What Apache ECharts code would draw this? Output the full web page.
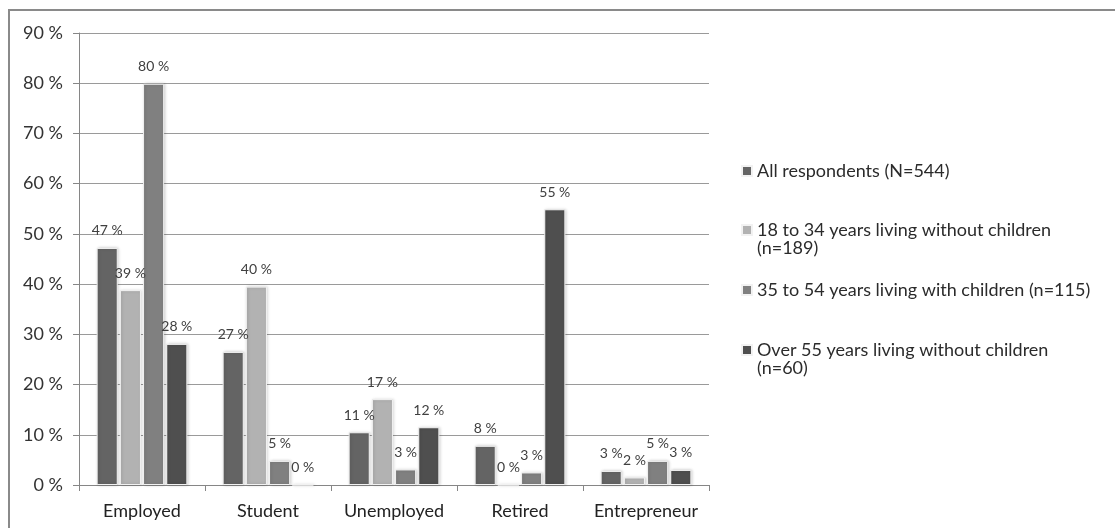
<!DOCTYPE html>
<html>
<head>
<meta charset="utf-8">
<script src="https://cdn.jsdelivr.net/npm/echarts@6/dist/echarts.min.js"></script>
<style>
  html, body { margin: 0; padding: 0; background: #fff; }
  #chart { width: 1115px; height: 528px; }
</style>
</head>
<body>
<div id="chart"></div>
<script>
// Employment status by respondent group (share of respondents, %)
const categories = ['Employed', 'Student', 'Unemployed', 'Retired', 'Entrepreneur'];

const seriesNames = [
  'All respondents (N=544)',
  '18 to 34 years living without children\n(n=189)',
  '35 to 54 years living with children (n=115)',
  'Over 55 years living without children\n(n=60)'
];

const allRespondents = [47.2, 26.5, 10.5, 7.8, 2.8];
const young = [38.8, 39.5, 17.1, 0, 1.5];
const middle = [79.9, 4.8, 3.1, 2.5, 4.8];
const older = [28.1, 0, 11.5, 54.9, 3.0];

const yTicks = [0, 10, 20, 30, 40, 50, 60, 70, 80, 90];

const seriesValues = [allRespondents, young, middle, older];
const colors = ['#646464', '#b2b2b2', '#808080', '#4f4f4f'];

const FONT = 'Lato, "Liberation Sans", sans-serif';

const chart = echarts.init(document.getElementById('chart'), null, { renderer: 'canvas' });

const series = seriesValues.map((vals, i) => ({
  name: seriesNames[i],
  type: 'bar',
  data: vals,
  barGap: '10%',
  barCategoryGap: '28%',
  itemStyle: {
    color: colors[i],
    borderColor: '#f2f2f2',
    borderWidth: 1,
    shadowBlur: 3,
    shadowColor: 'rgba(0,0,0,0.18)',
    shadowOffsetX: 1
  },
  label: {
    show: true,
    position: 'top',
    distance: 10,
    formatter: p => Math.round(p.value) + ' %',
    fontFamily: FONT,
    fontSize: 14,
    color: '#404040'
  }
}));

// one legend block per series so each entry sits at its own row;
// a leading blank line keeps the marker level with the first line of wrapped names
const legendTops = [157, 198, 276, 318];
const legends = seriesNames.map((name, i) => ({
  data: [name],
  orient: 'vertical',
  left: 736,
  top: legendTops[i],
  itemWidth: 10,
  itemHeight: 10,
  itemGap: 0,
  icon: 'rect',
  selectedMode: false,
  formatter: n => (n.indexOf('\n') >= 0 ? ' \n' + n : n),
  textStyle: {
    fontFamily: FONT,
    fontSize: 18,
    color: '#2b2b2b',
    lineHeight: 18
  }
}));

chart.setOption({
  animation: false,
  backgroundColor: '#fff',
  graphic: [{
    type: 'rect',
    shape: { x: 9, y: 10, width: 1120, height: 530 },
    style: { fill: 'none', stroke: '#8a8a8a', lineWidth: 2 },
    silent: true
  }],
  legend: legends,
  grid: { left: 79, right: 406, top: 33, bottom: 43, containLabel: false },
  xAxis: {
    type: 'category',
    data: categories,
    axisLine: { lineStyle: { color: '#868686', width: 1 } },
    axisTick: { show: true, alignWithLabel: false, length: 6, lineStyle: { color: '#868686' } },
    axisLabel: { interval: 0, fontFamily: FONT, fontSize: 18, color: '#222', margin: 17 }
  },
  yAxis: {
    type: 'value',
    min: yTicks[0],
    max: yTicks[yTicks.length - 1],
    interval: 10,
    axisLine: { show: true, lineStyle: { color: '#868686' } },
    axisTick: { show: true, length: 6, lineStyle: { color: '#868686' } },
    splitLine: { lineStyle: { color: '#9a9a9a', width: 1 } },
    axisLabel: {
      fontFamily: FONT,
      fontSize: 18,
      color: '#333',
      margin: 16,
      formatter: v => v + ' %'
    }
  },
  series
});
</script>
</body>
</html>
